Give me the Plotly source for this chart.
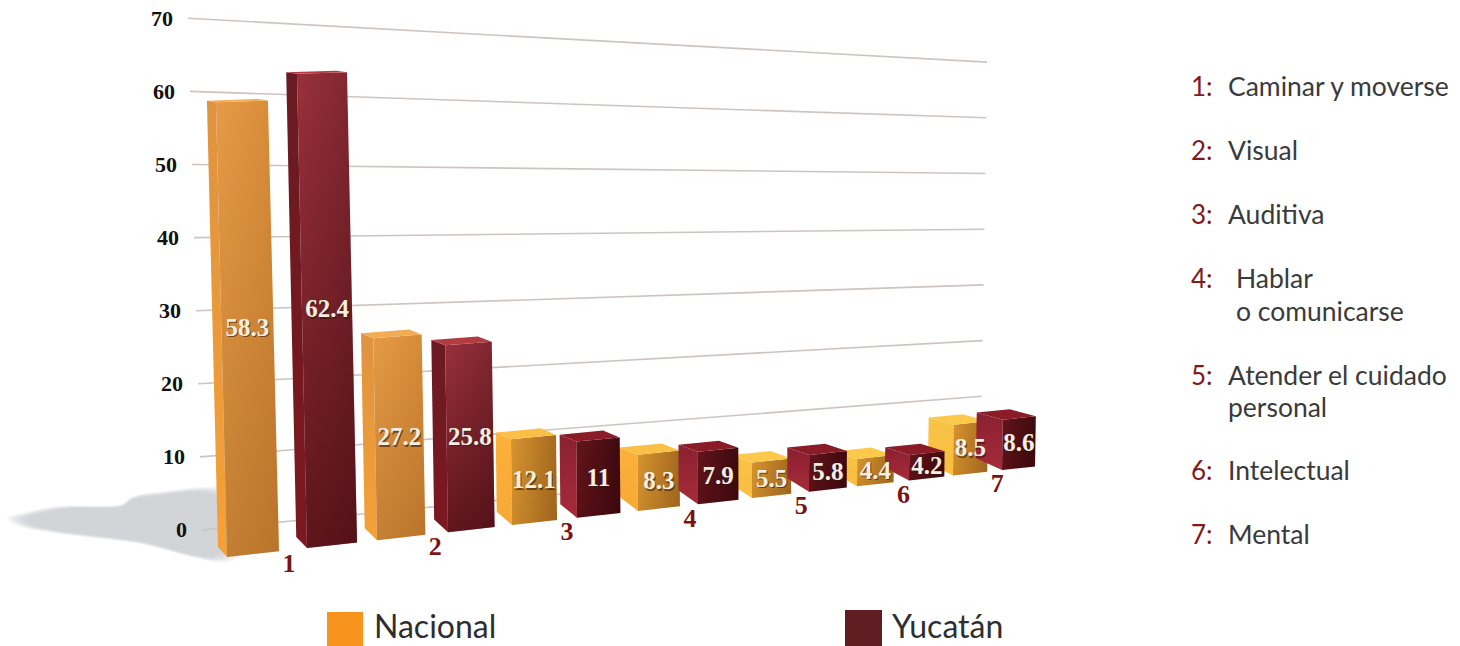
import plotly.graph_objects as go

# ---- data ----
categories = ["1", "2", "3", "4", "5", "6", "7"]
nacional = [58.3, 27.2, 12.1, 8.3, 5.5, 4.4, 8.5]
yucatan = [62.4, 25.8, 11, 7.9, 5.8, 4.2, 8.6]
y_ticks = [0, 10, 20, 30, 40, 50, 60, 70]
descriptions = [
    ("1:", ["Caminar y moverse"]),
    ("2:", ["Visual"]),
    ("3:", ["Auditiva"]),
    ("4:", ["Hablar", "o comunicarse"]),
    ("5:", ["Atender el cuidado", "personal"]),
    ("6:", ["Intelectual"]),
    ("7:", ["Mental"]),
]

# ---- perspective scale of the category axis (front corner of each box) ----
nacional_slot = [227, 377, 512, 638, 752, 857, 953]
yucatan_slot = [307, 448, 577, 698, 809, 909, 1002]

W, H = 1460, 646
ZERO_PX, UNIT_PX = 530, 7.31


def val(py):
    """screen row -> value on the left-hand value axis"""
    return (ZERO_PX - py) / UNIT_PX


def base_py(x):
    return 557 - 0.1122 * (x - 227)


def unit_at(x):
    return 7.8 - 0.0025 * (x - 227)


def lean(x):
    return -0.2 + 0.000366 * (x - 200)


def left_w(x):
    return 9 + 0.022 * (x - 227)


def right_w(x):
    return 52 - 0.0245 * (x - 227)


def box(xc, v):
    dl, dr = left_w(xc), right_w(xc)
    s = 1.1 - 0.00083 * (xc - 227)
    yb = base_py(xc)
    tx = lean(xc) * v
    yt = yb - v * unit_at(xc)
    a = max(1.5, 8 - 0.11 * v)
    st = -0.11 + 0.0013 * v
    return dict(
        C=(xc, yb), L=(xc - dl, yb - s * dl), R=(xc + dr, yb - 0.11 * dr),
        Ct=(xc + tx, yt), Lt=(xc + tx - dl, yt - a), Rt=(xc + tx + dr, yt + st * dr),
        Bt=(xc + tx - dl + dr, yt - a + st * dr),
    )


def poly(points):
    xs = [p[0] for p in points] + [points[0][0]]
    ys = [val(p[1]) for p in points] + [val(points[0][1])]
    return xs, ys


def face(points, name, group, gtype=None, scale=None, color=None):
    xs, ys = poly(points)
    kw = dict(x=xs, y=ys, mode="lines", line=dict(width=0), fill="toself",
              hoverinfo="skip", name=name, legendgroup=group, showlegend=False)
    if gtype == "horizontal":
        kw["fillgradient"] = dict(type=gtype, colorscale=[[0, scale[0]], [1, scale[1]]])
    elif gtype == "vertical":  # scale is given top -> bottom
        kw["fillgradient"] = dict(type=gtype, colorscale=[[0, scale[1]], [1, scale[0]]])
    else:
        kw["fillcolor"] = color
    return go.Scatter(**kw)


def style(series, v, x):
    bright = x > 700
    if series == "Nacional":
        if v > 20:
            return dict(front=("#E69B46", "#D68A38"), over=("rgba(110,60,10,0)", "rgba(110,60,10,0.28)"),
                        left=("#DF9340", "#F5A136"), top="#F2AC55")
        return dict(front=("#D8952F", "#A56A20"), over=("rgba(110,60,10,0)", "rgba(110,60,10,0.12)"),
                    left=("#F8C445", "#F8BE42") if bright else ("#FBB13A", "#F7A936"),
                    top="#FCC94B" if bright else "#FBBF45")
    if v > 20:
        return dict(front=("#9A303A", "#7E2630"), over=("rgba(50,0,5,0)", "rgba(50,0,5,0.55)"),
                    left=("#6A1A22", "#7C1820"), top="#B23C42")
    return dict(front=("#64141B", "#3E0A10"), over=("rgba(50,0,5,0)", "rgba(50,0,5,0.2)"),
                left=("#8A2030", "#A62B3A"), top="#8A1C28")


fig = go.Figure()

# soft floor shadow
shadow_outline = [(14, 519), (30, 513), (62, 507), (122, 505), (132, 498), (160, 493), (225, 493), (240, 530),
                  (228, 558), (135, 542), (55, 532), (25, 526)]
for grow, alpha in [(1.07, 0.05), (1.05, 0.07), (1.03, 0.09), (1.0, 0.11), (0.97, 0.13), (0.94, 0.13), (0.9, 0.1)]:
    cx, cy = 130, 522
    pts = [(cx + (px - cx) * grow, cy + (py - cy) * grow) for px, py in shadow_outline]
    xs, ys = poly(pts)
    fig.add_trace(go.Scatter(x=xs, y=ys, mode="lines", line=dict(width=0, shape="spline"), fill="toself",
                             fillcolor=f"rgba(170,174,182,{alpha})", hoverinfo="skip", showlegend=False))

# receding grid lines
for t in y_ticks:
    x0, x1 = 202 - 0.2 * t, 981 + 0.086 * t
    y0_px = ZERO_PX - UNIT_PX * t
    y1_px = 452 - 5.57 * t
    fig.add_trace(go.Scatter(x=[x0, x1], y=[val(y0_px), val(y1_px)], mode="lines",
                             line=dict(color="#CDC4C1", width=1.6), hoverinfo="skip", showlegend=False))

# value axis labels
fig.add_trace(go.Scatter(
    x=[187 - 0.2 * t for t in y_ticks], y=[t - 0.25 for t in y_ticks], mode="text", text=[str(t) for t in y_ticks],
    textposition="middle left", textfont=dict(family="Liberation Serif", size=22, color="#111111", weight="bold"),
    hoverinfo="skip", showlegend=False))

# boxes, far group first
labels = []
for i in range(len(categories) - 1, -1, -1):
    for series, values, slots in (("Nacional", nacional, nacional_slot), ("Yucatán", yucatan, yucatan_slot)):
        v, xc = values[i], slots[i]
        b = box(xc, v)
        st = style(series, v, xc)
        fig.add_trace(face([b["L"], b["C"], b["Ct"], b["Lt"]], series, series, "vertical", st["left"]))
        front = [b["C"], b["R"], b["Rt"], b["Ct"]]
        fig.add_trace(face(front, series, series, "horizontal", st["front"]))
        fig.add_trace(face(front, series, series, "vertical", st["over"]))
        fig.add_trace(face([b["Ct"], b["Rt"], b["Bt"], b["Lt"]], series, series, color=st["top"]))
        labels.append(((b["C"][0] + b["R"][0] + b["Ct"][0] + b["Rt"][0]) / 4,
                       (b["C"][1] + b["Ct"][1]) / 2, v))

# value labels with a soft drop shadow
lx = [p[0] for p in labels]
ly = [p[1] for p in labels]
lt = [str(p[2]) for p in labels]
fig.add_trace(go.Scatter(x=[p + 1 for p in lx], y=[val(p + 1.5) for p in ly], mode="text", text=lt,
                         textposition="middle center",
                         textfont=dict(family="Liberation Serif", size=25, color="rgba(50,25,10,0.6)", weight="bold"),
                         hoverinfo="skip", showlegend=False))
fig.add_trace(go.Scatter(x=lx, y=[val(p) for p in ly], mode="text", text=lt, textposition="middle center",
                         textfont=dict(family="Liberation Serif", size=25, color="#F5EEE2", weight="bold"),
                         hoverinfo="skip", showlegend=False))

# category numbers under each pair
cat_x = [nacional_slot[i] + right_w(nacional_slot[i]) + 10 for i in range(len(categories))]
fig.add_trace(go.Scatter(x=cat_x, y=[val(base_py(x) + 15) for x in cat_x], mode="text", text=categories,
                         textposition="middle center",
                         textfont=dict(family="Liberation Serif", size=26, color="#7A1410", weight="bold"),
                         hoverinfo="skip", showlegend=False))

annotations = []
shapes = []


def note(x, y, text, size, color, family="Lato"):
    annotations.append(dict(x=x / W, y=1 - y / H, xref="paper", yref="paper", text=text, showarrow=False,
                            xanchor="left", yanchor="middle", align="left",
                            font=dict(family=family, size=size, color=color)))


list_rows = [[86], [150], [214], [278, 311], [375, 407], [470], [534]]
list_x = [1226, 1226, 1226, 1234, 1226, 1226, 1226]
for (num, lines), rows, tx in zip(descriptions, list_rows, list_x):
    note(1189, rows[0], num, 26, "#7E1A1C")
    for line, row in zip(lines, rows):
        note(tx, row, line, 26.5, "#3A3A3C")

for x0, x1, y0, y1, color, label, tx in [
    (327, 363, 612, 646, "#F7941D", "Nacional", 372),
    (845, 882, 610, 646, "#5F1E22", "Yucatán", 890),
]:
    shapes.append(dict(type="rect", xref="paper", yref="paper", x0=x0 / W, x1=x1 / W,
                       y0=1 - y1 / H, y1=1 - y0 / H, fillcolor=color, line=dict(width=0)))
    note(tx, 625, label, 32, "#2E2E30")

fig.update_layout(
    width=W, height=H, margin=dict(l=0, r=0, t=0, b=0), showlegend=False,
    paper_bgcolor="white", plot_bgcolor="white", annotations=annotations, shapes=shapes,
    xaxis=dict(range=[0, W], visible=False, fixedrange=True),
    yaxis=dict(range=[val(H), val(0)], visible=False, fixedrange=True),
)
fig.write_html("out.html", config=dict(displayModeBar=False),
               post_script="document.body.style.margin='0';document.body.style.overflow='hidden';")
